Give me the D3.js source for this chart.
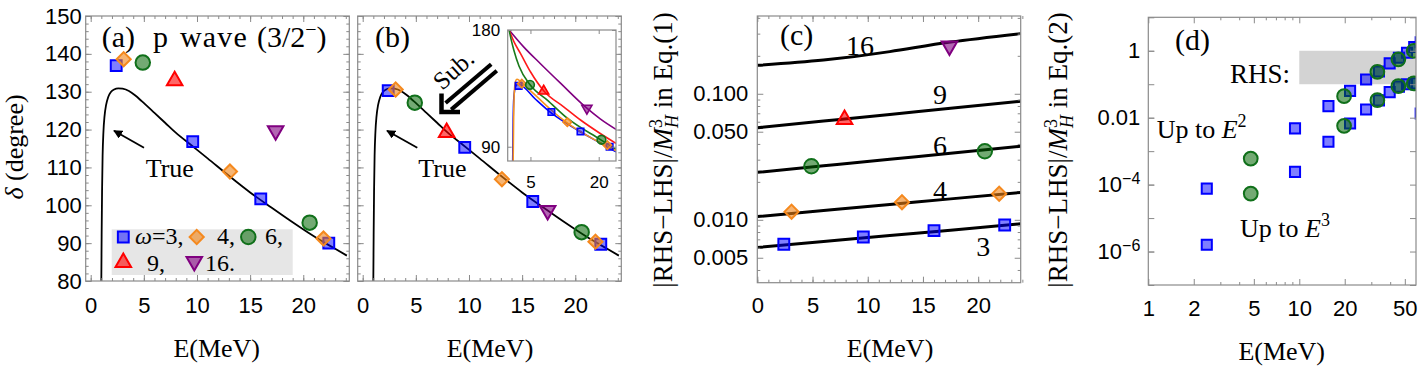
<!DOCTYPE html>
<html><head><meta charset="utf-8">
<script src="https://cdn.jsdelivr.net/npm/d3@7/dist/d3.min.js"></script>
<style>body{margin:0;background:#fff}svg{display:block}</style>
</head><body>
<svg id="c" width="1426" height="370"></svg>
<script>
// ---------------- DATA ----------------
const xTicksLin = [0, 5, 10, 15, 20];
const xMinorLin = d3.range(0, 25, 1);
const yTicksDelta = [80, 90, 100, 110, 120, 130, 140, 150];
const yMinorDelta = d3.range(80, 151, 2);
const yTicksC = [0.005, 0.01, 0.05, 0.1];
const yTickLabelsC = ["0.005", "0.010", "0.050", "0.100"];
const yMinorC = [0.004, 0.006, 0.007, 0.008, 0.009, 0.02, 0.03, 0.04, 0.06, 0.07, 0.08, 0.09, 0.2, 0.3, 0.4];
const xTicksD = [1, 2, 5, 10, 20, 50];
const xMinorD = [3, 4, 6, 7, 8, 9, 30, 40];
const yTicksD = [1, 0.01, 1e-4, 1e-6];
const yTickLabelsD = ["1", "0.01", "10^-4", "10^-6"];
const yMajorD = [1e-7, 1e-6, 1e-5, 1e-4, 1e-3, 1e-2, 1e-1, 1, 10];
const legendLabels = ["=3,", "4,", "6,", "9,", "16."];

// energies of the markers (MeV), per oscillator frequency omega
const E3 = [2.4, 9.6, 16.0, 22.4];
const E4 = [3.1, 13.1, 21.9];
const E6 = [4.9, 20.6];
const E9 = [7.9];
const E16 = [17.4];

// panel (a): phase shifts before subtraction
const deltaA3 = [136.9, 116.8, 101.7, 90.0];
const deltaA4 = [138.6, 108.9, 91.2];
const deltaA6 = [137.7, 95.4];
const deltaA9 = [132.9];
const deltaA16 = [119.7];

// panel (b): phase shifts after subtraction
const deltaB3 = [130.3, 115.3, 101.0, 89.7];
const deltaB4 = [130.6, 106.9, 90.4];
const deltaB6 = [127.1, 92.9];
const deltaB9 = [119.2];
const deltaB16 = [98.6];

// true phase shift curve
const trueE = [1.0, 1.03, 1.07, 1.12, 1.2, 1.3, 1.45, 1.65, 1.9, 2.2, 2.6, 3.0, 3.6, 4.2, 4.8, 6, 7, 8, 9.5, 11, 13, 15, 17, 19, 21, 23, 24.1];
const trueDelta = [80, 92, 104, 113, 119.5, 123.5, 126.5, 128.6, 129.9, 130.6, 130.9, 130.8, 130.2, 129.0, 127.5, 124.4, 121.8, 119.2, 115.8, 112.4, 107.8, 103.4, 99.4, 95.5, 91.8, 88.5, 86.7];

// inset curves (b)
const insE16 = [0.3, 3.5, 7.2, 11.6, 17.2, 20.4, 23.8];
const insD16 = [180, 167, 154, 139, 120.3, 111.3, 103.4];
const insE9 = [0.3, 1.5, 2.8, 5.0, 7.9, 12.3, 16, 20, 23.8];
const insD9 = [180, 170, 162, 147.8, 133.2, 120.8, 110.6, 101, 92.6];
const insE6 = [0.3, 0.8, 1.34, 2.5, 5.0, 8.7, 13.1, 20.3, 23.8];
const insD6 = [180, 172, 164.6, 152, 137.4, 126, 112, 95.7, 88];
const insE4 = [1.2, 1.3, 1.45, 1.7, 2.0, 2.6, 3.2, 6, 9.5, 12.9, 17, 21.3, 23.8];
const insD4 = [79, 110, 132, 140, 142, 141, 139, 130, 118.5, 108.8, 99.5, 91.3, 86.9];
const insE3 = [1.1, 1.2, 1.35, 1.7, 2.1, 2.8, 6, 9.4, 12.5, 15.7, 19, 21.9, 23.8];
const insD3 = [79, 110, 128, 136, 138, 137.6, 127, 116.5, 109, 102.1, 95.5, 90, 86];

// panel (c): |RHS-LHS|/M^3 lines and markers
const lineE = [0, 6, 12, 17.5, 23.85];
const line16 = [0.168, 0.185, 0.216, 0.257, 0.300];
const line9 = [0.0537, 0.0607, 0.0686, 0.0767, 0.0873];
const line6 = [0.0238, 0.0268, 0.0302, 0.0337, 0.0383];
const line4 = [0.0106, 0.01184, 0.01323, 0.01466, 0.0165];
const line3 = [0.00603, 0.00672, 0.0075, 0.00828, 0.00929];
const lineLabels = ["16", "9", "6", "4", "3"];
const c3 = [0.0064, 0.0073, 0.0082, 0.0091];
const c4 = [0.0116, 0.0138, 0.0161];
const c6 = [0.0266, 0.035];
const c9 = [0.0624];
const c16 = [0.239];

// panel (d)
const dE3 = [2.44, 9.37, 15.6, 21.7, 27.7, 33.7, 39.7, 45.7, 51.7, 57.7, 63.7];
const dUp3 = [7.6e-5, 4.8e-3, 0.0221, 0.0634, 0.139, 0.24, 0.42, 0.62, 0.87, 1.3, 1.8];
const dLow3 = [1.6e-6, 2.4e-4, 1.9e-3, 6.7e-3, 0.0176, 0.033, 0.058, 0.085, 0.1, 0.106, 0.0134];
const dE6 = [4.77, 19.8, 32.9, 45.3, 57.3];
const dUp6 = [6.0e-4, 0.044, 0.235, 0.553, 1.0];
const dLow6 = [5.4e-5, 5.7e-3, 0.0334, 0.0877, 0.106];
const rhsBand = [0.1, 1];
const rhsE = [10, 80];

// ---------------- DRAWING ----------------
const svg = d3.select('#c');
const SERIF = "'Liberation Serif','Times New Roman',serif";
const SANS = "'Liberation Sans',Arial,sans-serif";
const FRAME = '#8a8a8a';
const defs = svg.append('defs');

const styles = {
  sq:   {fill: 'rgba(0,0,255,0.5)',    stroke: '#0000ff', area: 118, rot: 0,   sym: d3.symbolSquare},
  dia:  {fill: 'rgba(240,130,20,0.6)', stroke: '#f5891e', area: 100, rot: 45,  sym: d3.symbolSquare},
  circ: {fill: 'rgba(0,100,0,0.55)',   stroke: '#10701a', area: 165, rot: 0,   sym: d3.symbolCircle},
  tri:  {fill: 'rgba(255,0,0,0.6)',    stroke: '#ff0000', area: 105, rot: 0,   sym: d3.symbolTriangle},
  itri: {fill: 'rgba(128,0,128,0.6)',  stroke: '#800080', area: 105, rot: 180, sym: d3.symbolTriangle}
};
const lineColors = {sq: '#0000ff', dia: '#f7931e', circ: '#1a7a1a', tri: '#ff1a1a', itri: '#800080'};

function markers(g, type, xs, ys, sx, sy, k = 1, sw = 2) {
  const s = styles[type];
  const path = d3.symbol(s.sym, s.area * k * k)();
  g.selectAll(null).data(xs.map((x, i) => [x, ys[i]])).enter().append('path')
    .attr('d', path)
    .attr('transform', d => `translate(${sx(d[0])},${sy(d[1])}) rotate(${s.rot})`)
    .attr('fill', s.fill).attr('stroke', s.stroke).attr('stroke-width', sw);
}
function markerAt(g, type, x, y) {
  const s = styles[type];
  g.append('path').attr('d', d3.symbol(s.sym, s.area)())
    .attr('transform', `translate(${x},${y}) rotate(${s.rot})`)
    .attr('fill', s.fill).attr('stroke', s.stroke).attr('stroke-width', 2);
}
function clip(id, x0, x1, y0, y1) {
  defs.append('clipPath').attr('id', id).append('rect')
    .attr('x', x0).attr('y', y0).attr('width', x1 - x0).attr('height', y1 - y0);
  return svg.append('g').attr('clip-path', `url(#${id})`);
}
function axis(gen, tr, values, size, fmt, pad, fs) {
  const a = gen.tickValues(values).tickSize(size).tickPadding(pad || 3)
    .tickFormat(fmt || (() => ''));
  const g = svg.append('g').attr('transform', tr).call(a);
  g.select('.domain').remove();
  g.selectAll('line').attr('stroke', FRAME).attr('stroke-width', 1);
  g.selectAll('text').attr('font-family', SANS).attr('font-size', fs || 22).attr('fill', '#000');
  return g;
}
function frame(sx, sy, o) {
  const [x0, x1] = sx.range(), [y1, y0] = sy.range();
  axis(d3.axisBottom(sx), `translate(0,${y1})`, o.xMinor, -3);
  axis(d3.axisBottom(sx), `translate(0,${y1})`, o.xMajor, -6, o.xFmt, o.xPad);
  axis(d3.axisTop(sx), `translate(0,${y0})`, o.xMinor, -3);
  axis(d3.axisTop(sx), `translate(0,${y0})`, o.xMajor, -6);
  axis(d3.axisLeft(sy), `translate(${x0},0)`, o.yMinor, -3);
  const gl = axis(d3.axisLeft(sy), `translate(${x0},0)`, o.yMajor, -6, o.yFmt, o.yPad);
  axis(d3.axisRight(sy), `translate(${x1},0)`, o.yMinor, -3);
  axis(d3.axisRight(sy), `translate(${x1},0)`, o.yMajor, -6);
  svg.append('rect').attr('x', x0).attr('y', y0).attr('width', x1 - x0).attr('height', y1 - y0)
    .attr('fill', 'none').attr('stroke', FRAME).attr('stroke-width', 1.2);
  return gl;
}
function label(x, y, txt, fs, anchor) {
  return svg.append('text').attr('x', x).attr('y', y).attr('font-family', SERIF)
    .attr('font-size', fs || 27).attr('text-anchor', anchor || 'start').text(txt);
}
defs.append('marker').attr('id', 'ah').attr('viewBox', '0 0 10 10').attr('refX', 9).attr('refY', 5)
  .attr('markerWidth', 5).attr('markerHeight', 5).attr('orient', 'auto-start-reverse')
  .append('path').attr('d', 'M0,0 L10,5 L0,10 Z').attr('fill', '#000');

// ===== Panel (a) =====
const xA = d3.scaleLinear().domain([-0.47, 24.33]).range([85.7, 349.3]);
const yA = d3.scaleLinear().domain([80, 150]).range([281, 16]);
const lineGen = (sx, sy, cv) => d3.line().x(d => sx(d[0])).y(d => sy(d[1])).curve(cv || d3.curveMonotoneX);
const trueData = trueE.map((e, i) => [e, trueDelta[i]]);

svg.append('rect').attr('x', 111.7).attr('y', 229.3).attr('width', 181).attr('height', 45.7).attr('fill', '#e6e6e6');
const gA = clip('clipA', 85.7, 349.3, 16, 281);
gA.append('path').datum(trueData).attr('d', lineGen(xA, yA)).attr('fill', 'none').attr('stroke', '#000').attr('stroke-width', 1.8);
markers(gA, 'sq', E3, deltaA3, xA, yA);
markers(gA, 'dia', E4, deltaA4, xA, yA);
markers(gA, 'circ', E6, deltaA6, xA, yA);
markers(gA, 'tri', E9, deltaA9, xA, yA);
markers(gA, 'itri', E16, deltaA16, xA, yA);
frame(xA, yA, {xMajor: xTicksLin, xMinor: xMinorLin, yMajor: yTicksDelta, yMinor: yMinorDelta,
  xFmt: d3.format('d'), xPad: 16, yFmt: d3.format('d'), yPad: 4});
// legend content
markerAt(svg, 'sq', 123.3, 237);
markerAt(svg, 'dia', 196.7, 237);
markerAt(svg, 'circ', 248.3, 237);
markerAt(svg, 'tri', 123.3, 262.5);
markerAt(svg, 'itri', 194.3, 261.5);
const LFS = 24;
label(135, 244, '', LFS).call(t => {
  t.append('tspan').attr('font-style', 'italic').text('ω');
  t.append('tspan').text(legendLabels[0]);
});
label(217, 244, legendLabels[1], LFS);
label(265, 244, legendLabels[2], LFS);
label(147, 271, legendLabels[3], LFS);
label(205, 271, legendLabels[4], LFS);
// title
const ta = svg.append('text').attr('y', 47).attr('font-family', SERIF).attr('font-size', 30);
ta.append('tspan').attr('x', 101.7).text('(a)');
ta.append('tspan').attr('x', 153).attr('letter-spacing', 1.2).attr('word-spacing', 2).text('p wave');
ta.append('tspan').attr('x', 257).text('(3/2');
ta.append('tspan').attr('dy', -11).attr('font-size', 20).text('−');
ta.append('tspan').attr('dy', 11).text(')');
svg.append('line').attr('x1', 144).attr('y1', 147.7).attr('x2', 114).attr('y2', 130.7)
  .attr('stroke', '#000').attr('stroke-width', 1.8).attr('marker-end', 'url(#ah)');
label(145.7, 177, 'True', 26);
svg.append('text').attr('transform', 'translate(23,147) rotate(-90)').attr('text-anchor', 'middle')
  .attr('font-family', SERIF).attr('font-size', 26)
  .call(t => { t.append('tspan').attr('font-style', 'italic').text('δ'); t.append('tspan').text(' (degree)'); });
label(216.7, 357, 'E(MeV)', 26, 'middle');

// ===== Panel (b) =====
const xB = d3.scaleLinear().domain([-0.47, 24.33]).range([357.7, 621.3]);
const gB = clip('clipB', 357.7, 621.3, 16, 281);
gB.append('path').datum(trueData).attr('d', lineGen(xB, yA)).attr('fill', 'none').attr('stroke', '#000').attr('stroke-width', 1.8);
markers(gB, 'sq', E3, deltaB3, xB, yA);
markers(gB, 'dia', E4, deltaB4, xB, yA);
markers(gB, 'circ', E6, deltaB6, xB, yA);
markers(gB, 'tri', E9, deltaB9, xB, yA);
markers(gB, 'itri', E16, deltaB16, xB, yA);
frame(xB, yA, {xMajor: xTicksLin, xMinor: xMinorLin, yMajor: yTicksDelta, yMinor: yMinorDelta,
  xFmt: d3.format('d'), xPad: 16});
label(375, 47, '(b)', 30);
svg.append('line').attr('x1', 417.3).attr('y1', 147.7).attr('x2', 387).attr('y2', 130.7)
  .attr('stroke', '#000').attr('stroke-width', 1.8).attr('marker-end', 'url(#ah)');
label(418.3, 177, 'True', 26);
label(490, 357, 'E(MeV)', 26, 'middle');
(function () {
  const tip = [440, 113.5], end = [494, 67.5];
  const L = Math.hypot(end[0] - tip[0], end[1] - tip[1]);
  const u = [(end[0] - tip[0]) / L, (end[1] - tip[1]) / L], n = [-u[1], u[0]];
  [-4.3, 4.3].forEach(o => {
    svg.append('line')
      .attr('x1', tip[0] + u[0] * 11 + n[0] * o).attr('y1', tip[1] + u[1] * 11 + n[1] * o)
      .attr('x2', tip[0] + u[0] * L + n[0] * o).attr('y2', tip[1] + u[1] * L + n[1] * o)
      .attr('stroke', '#000').attr('stroke-width', 4);
  });
  svg.append('path').attr('d', `M${tip[0] + 1.5},${tip[1] - 20} L${tip[0] + 1.5},${tip[1] - 1.5} L${tip[0] + 20},${tip[1] - 1.5}`)
    .attr('fill', 'none').attr('stroke', '#000').attr('stroke-width', 4.5).attr('stroke-linejoin', 'miter');
})();
svg.append('text').attr('transform', 'translate(459,76) rotate(-42)').attr('text-anchor', 'middle')
  .attr('font-family', SERIF).attr('font-size', 25).text('Sub.');
// inset
const xI = d3.scaleLinear().domain([0, 23.8]).range([507.7, 616]);
const yI = d3.scaleLinear().domain([79, 180]).range([161, 30]);
svg.append('rect').attr('x', 507.7).attr('y', 30).attr('width', 108.3).attr('height', 131).attr('fill', '#fff');
const gI = clip('clipI', 507.7, 616, 30, 161);
[[insE16, insD16, 'itri'], [insE9, insD9, 'tri'], [insE6, insD6, 'circ'], [insE3, insD3, 'sq'], [insE4, insD4, 'dia']]
  .forEach(([es, ds, t]) => {
    gI.append('path').datum(es.map((e, i) => [e, ds[i]])).attr('d', lineGen(xI, yI))
      .attr('fill', 'none').attr('stroke', lineColors[t]).attr('stroke-width', 1.6);
  });
markers(gI, 'sq', E3, deltaA3, xI, yI, 0.6, 1.6);
markers(gI, 'dia', E4, deltaA4, xI, yI, 0.6, 1.6);
markers(gI, 'circ', E6, deltaA6, xI, yI, 0.6, 1.6);
markers(gI, 'tri', E9, deltaA9, xI, yI, 0.65, 1.6);
markers(gI, 'itri', E16, deltaA16, xI, yI, 0.65, 1.6);
axis(d3.axisBottom(xI), 'translate(0,161)', [5, 20], -4, d3.format('d'), 14.5, 17);
axis(d3.axisTop(xI), 'translate(0,30)', [5, 20], -4);
axis(d3.axisLeft(yI), 'translate(507.7,0)', [90, 180], -4, d3.format('d'), 7.5, 17);
axis(d3.axisRight(yI), 'translate(616,0)', [90, 180], -4);
svg.append('rect').attr('x', 507.7).attr('y', 30).attr('width', 108.3).attr('height', 131)
  .attr('fill', 'none').attr('stroke', FRAME).attr('stroke-width', 1.2);

// ===== Panel (c) =====
const xC = d3.scaleLinear().domain([0, 23.85]).range([757.3, 1020.7]);
const yC = d3.scaleLog().domain([0.00317, 0.414]).range([282.7, 16]);
const gC = clip('clipC', 757.3, 1020.7, 16, 282.7);
[line16, line9, line6, line4, line3].forEach(vals => {
  gC.append('path').datum(lineE.map((e, i) => [e, vals[i]])).attr('d', lineGen(xC, yC, d3.curveNatural))
    .attr('fill', 'none').attr('stroke', '#000').attr('stroke-width', 3);
});
markers(gC, 'sq', E3, c3, xC, yC);
markers(gC, 'dia', E4, c4, xC, yC);
markers(gC, 'circ', E6, c6, xC, yC);
markers(gC, 'tri', E9, c9, xC, yC);
markers(gC, 'itri', E16, c16, xC, yC);
frame(xC, yC, {xMajor: xTicksLin, xMinor: xMinorLin, yMajor: yTicksC, yMinor: yMinorC,
  xFmt: d3.format('d'), xPad: 14.6, yFmt: d => yTickLabelsC[yTicksC.indexOf(d)], yPad: 9});
label(780, 45, '(c)', 30);
const lblPos = [[860, 55], [940, 104], [940, 155], [940, 200], [983.3, 256]];
lineLabels.forEach((t, i) => label(lblPos[i][0], lblPos[i][1], t, 28, 'middle'));
label(890, 357, 'E(MeV)', 26, 'middle');
function ytitle(x, eq) {
  const t = svg.append('text').attr('transform', `translate(${x},150) rotate(-90)`).attr('text-anchor', 'middle')
    .attr('font-family', SERIF).attr('font-size', 27);
  t.append('tspan').text('|RHS−LHS|/');
  t.append('tspan').attr('font-style', 'italic').text('M');
  t.append('tspan').attr('font-size', 18).attr('dy', -10).text('3');
  t.append('tspan').attr('font-size', 18).attr('font-style', 'italic').attr('dx', -9).attr('dy', 16).text('H');
  t.append('tspan').attr('dy', -6).text(' in Eq.(' + eq + ')');
}
ytitle(672, 1);

// ===== Panel (d) =====
const xD = d3.scaleLog().domain([1, 59.3]).range([1148.3, 1416]);
const yD = d3.scaleLog().domain([1e-7, 10]).range([285, 17.3]);
const gD = clip('clipD', 1148.3, 1416, 17.3, 285);
gD.append('rect').attr('x', xD(rhsE[0])).attr('y', yD(rhsBand[1]))
  .attr('width', xD(rhsE[1]) - xD(rhsE[0])).attr('height', yD(rhsBand[0]) - yD(rhsBand[1])).attr('fill', '#d3d3d3');
markers(gD, 'sq', dE3, dUp3, xD, yD, 0.93);
markers(gD, 'sq', dE3, dLow3, xD, yD, 0.93);
markers(gD, 'circ', dE6, dUp6, xD, yD, 0.95);
markers(gD, 'circ', dE6, dLow6, xD, yD, 0.95);
frame(xD, yD, {xMajor: xTicksD, xMinor: xMinorD, yMajor: yMajorD, yMinor: [],
  xFmt: d3.format('d'), xPad: 15.6, yFmt: () => '', yPad: 8});
axis(d3.axisLeft(yD), 'translate(1148.3,0)', yTicksD, -6, d => yTickLabelsD[yTicksD.indexOf(d)], 8)
  .selectAll('text').each(function () {
    const s = d3.select(this), t = s.text();
    if (t.includes('^')) {
      const [b, e] = t.split('^');
      s.text(b);
      s.append('tspan').attr('dy', '-0.5em').attr('font-size', 16).text(e.replace('-', '−'));
    }
  });
label(1175, 50, '(d)', 30);
label(1290, 83, 'RHS:', 27, 'end');
const u2 = label(1156.7, 138, 'Up to ', 26);
u2.append('tspan').attr('font-style', 'italic').text('E');
u2.append('tspan').attr('font-size', 18).attr('dy', -11).text('2');
const u3 = label(1240, 237, 'Up to ', 26);
u3.append('tspan').attr('font-style', 'italic').text('E');
u3.append('tspan').attr('font-size', 18).attr('dy', -11).text('3');
label(1281.7, 360, 'E(MeV)', 26, 'middle');
ytitle(1067, 2);
</script>
</body></html>
